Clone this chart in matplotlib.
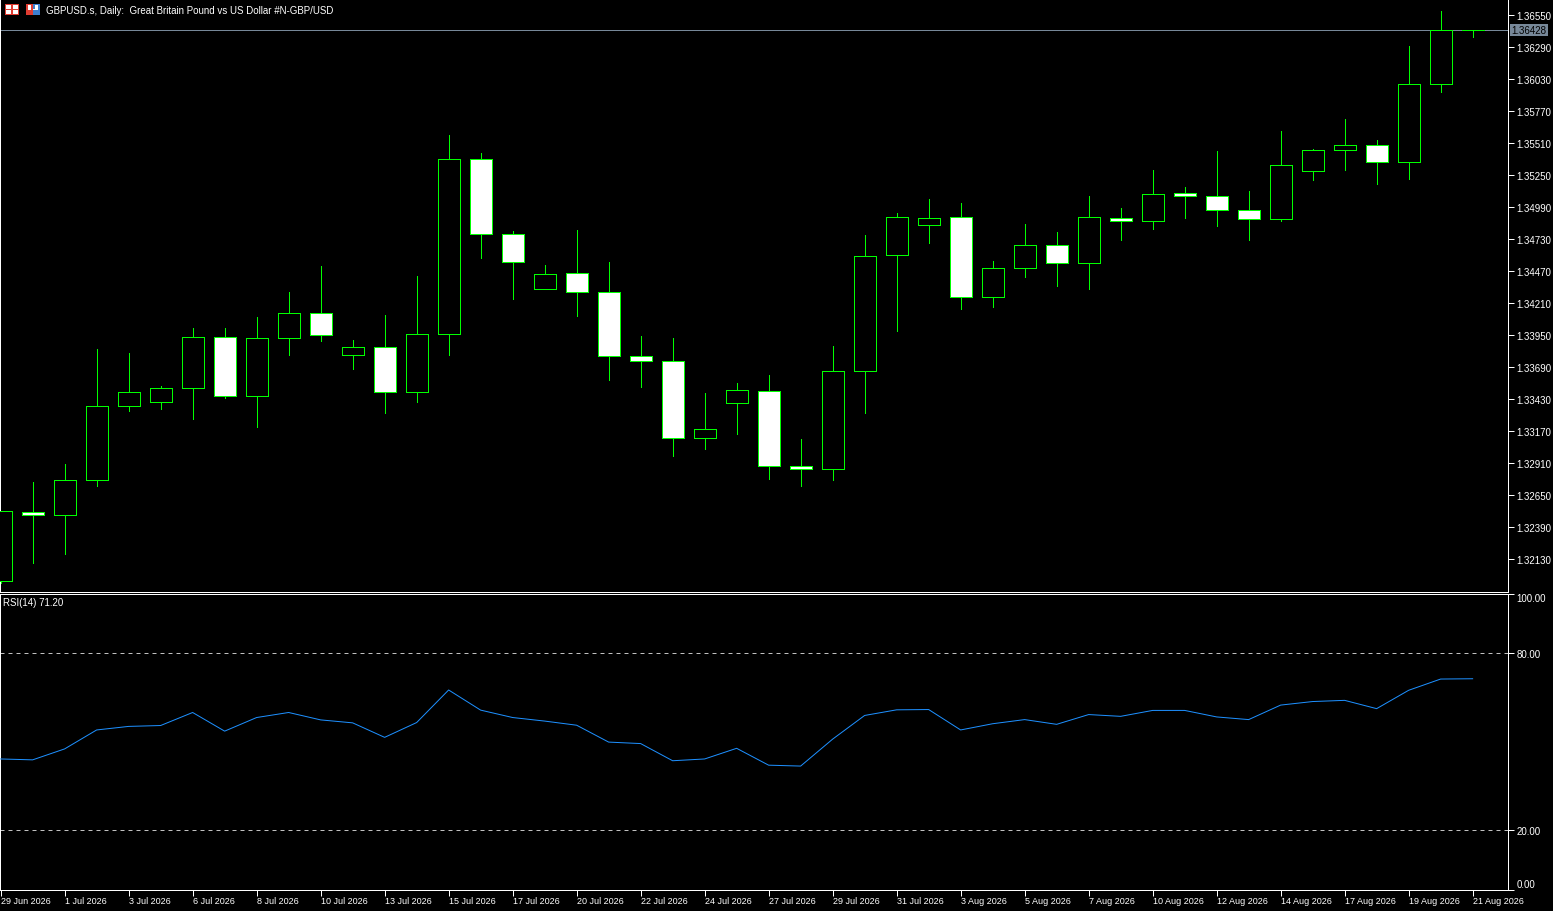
import matplotlib
matplotlib.use("Agg")
import matplotlib.pyplot as plt
from matplotlib.patches import Rectangle
from matplotlib.transforms import blended_transform_factory

# daily GBPUSD bars (broker shows Sunday bars too)
opens = [1.31949, 1.32508, 1.32485, 1.32769, 1.33371, 1.33403, 1.33517, 1.33931, 1.33452, 1.33923,
         1.34126, 1.33785, 1.33850, 1.33484, 1.33956, 1.35378, 1.34768, 1.34321, 1.34451, 1.34297,
         1.33777, 1.33736, 1.33111, 1.33395, 1.33493, 1.32883, 1.32859, 1.33655, 1.34598, 1.34841,
         1.34906, 1.34256, 1.34492, 1.34679, 1.34533, 1.34898, 1.34874, 1.35101, 1.35077, 1.34963,
         1.34890, 1.35280, 1.35451, 1.35491, 1.35353, 1.35987, 1.36428]
highs = [1.32518, 1.32753, 1.32899, 1.33836, 1.33804, 1.33536, 1.34007, 1.34007, 1.34096, 1.34299,
         1.34511, 1.33909, 1.34113, 1.34429, 1.35575, 1.35429, 1.34795, 1.34519, 1.34803, 1.34541,
         1.33939, 1.33926, 1.33479, 1.33560, 1.33625, 1.33105, 1.33861, 1.34763, 1.34941, 1.35055,
         1.35023, 1.34551, 1.34852, 1.34787, 1.35079, 1.34982, 1.35291, 1.35153, 1.35445, 1.35120,
         1.35608, 1.35461, 1.35705, 1.35534, 1.36298, 1.36583, 1.36432]
lows = [1.31935, 1.32100, 1.32173, 1.32726, 1.33335, 1.33351, 1.33270, 1.33441, 1.33205, 1.33790,
        1.33904, 1.33676, 1.33319, 1.33408, 1.33790, 1.34578, 1.34245, 1.34321, 1.34107, 1.33587,
        1.33530, 1.32969, 1.33026, 1.33148, 1.32782, 1.32726, 1.32774, 1.33319, 1.33985, 1.34700,
        1.34164, 1.34180, 1.34424, 1.34351, 1.34326, 1.34724, 1.34814, 1.34903, 1.34838, 1.34724,
        1.34874, 1.35212, 1.35293, 1.35179, 1.35220, 1.35927, 1.36374]
closes = [1.32518, 1.32488, 1.32769, 1.33371, 1.33484, 1.33517, 1.33931, 1.33452, 1.33923, 1.34126,
          1.33948, 1.33850, 1.33484, 1.33956, 1.35378, 1.34768, 1.34541, 1.34443, 1.34297, 1.33777,
          1.33736, 1.33111, 1.33184, 1.33501, 1.32883, 1.32859, 1.33655, 1.34589, 1.34906, 1.34898,
          1.34256, 1.34492, 1.34679, 1.34533, 1.34906, 1.34874, 1.35093, 1.35077, 1.34963, 1.34890,
          1.35329, 1.35451, 1.35491, 1.35353, 1.35987, 1.36425, 1.36428]

rsi = [44.1, 43.8, 47.5, 53.9, 55.1, 55.4, 59.8, 53.5, 58.1, 59.8,
       57.3, 56.3, 51.4, 56.4, 67.4, 60.6, 58.1, 56.9, 55.5, 49.8,
       49.3, 43.5, 44.1, 47.7, 42.0, 41.7, 50.8, 58.8, 60.7, 60.8,
       53.9, 56.0, 57.4, 55.8, 59.1, 58.5, 60.5, 60.5, 58.3, 57.4,
       62.3, 63.5, 63.9, 61.1, 67.3, 71.1, 71.2]

date_labels = ["29 Jun 2026", "1 Jul 2026", "3 Jul 2026", "6 Jul 2026", "8 Jul 2026", "10 Jul 2026",
               "13 Jul 2026", "15 Jul 2026", "17 Jul 2026", "20 Jul 2026", "22 Jul 2026", "24 Jul 2026",
               "27 Jul 2026", "29 Jul 2026", "31 Jul 2026", "3 Aug 2026", "5 Aug 2026", "7 Aug 2026",
               "10 Aug 2026", "12 Aug 2026", "14 Aug 2026", "17 Aug 2026", "19 Aug 2026", "21 Aug 2026"]

price_ticks = [1.32130, 1.32390, 1.32650, 1.32910, 1.33170, 1.33430, 1.33690, 1.33950, 1.34210,
               1.34470, 1.34730, 1.34990, 1.35250, 1.35510, 1.35770, 1.36030, 1.36290, 1.36550]
last_price = 1.36428

GREEN = "#00ff00"
FONT = "Liberation Sans"
PX = 0.72  # one pixel in points at 100 dpi
W, H = 1553, 912


def px_rect(l, t, r, b):
    return [l / W, 1 - b / H, (r - l) / W, (b - t) / H]


fig = plt.figure(figsize=(W / 100, H / 100), dpi=100, facecolor="black")
ax = fig.add_axes(px_rect(0, 0, 1508, 592.5), facecolor="black")
ax2 = fig.add_axes(px_rect(0, 594.5, 1508, 890.5), facecolor="black")

n = len(opens)
xs = list(range(n))

# candles: wicks first, bodies on top (bull = black body, bear = white body)
ax.vlines(xs, lows, highs, color=GREEN, lw=PX, zorder=2, antialiased=False)
bottoms = [min(o, c) for o, c in zip(opens, closes)]
heights = [abs(c - o) for o, c in zip(opens, closes)]
fills = ["black" if c >= o else "white" for o, c in zip(opens, closes)]
ax.bar(xs, heights, bottom=bottoms, width=0.69, color=fills, edgecolor=GREEN,
       linewidth=PX, zorder=3, antialiased=False)

ax.axhline(last_price, color="#778899", lw=PX, zorder=1)

ax.set_xlim(-0.02, 1508 / 32 - 0.02)
ax.set_ylim(1.36680 - 592.5 * 0.00008125, 1.36680)

ax.yaxis.tick_right()
ax.set_yticks(price_ticks)
ax.set_yticklabels([f"{p:.5f}" for p in price_ticks])
ax.tick_params(axis="y", colors="white", length=4, width=PX, pad=2, labelsize=7)
ax.tick_params(axis="x", bottom=False, labelbottom=False)
for lab in ax.get_yticklabels():
    lab.set_fontfamily(FONT)
ax.spines["top"].set_visible(False)
for s in ["left", "right", "bottom"]:
    ax.spines[s].set_color("white")
    ax.spines[s].set_linewidth(PX)

tr = blended_transform_factory(ax.transAxes, ax.transData)
ax.text(1.0025, last_price, f"{last_price:.5f}", transform=tr, va="center", ha="left",
        fontsize=7, family=FONT, color="black", zorder=5, clip_on=False,
        bbox=dict(boxstyle="square,pad=0.15", facecolor="#778899", edgecolor="none"))

# RSI pane
ax2.plot(xs, rsi, color="#1e90ff", lw=PX, zorder=3)
ax2.axhline(80, color="#c0c0c0", lw=PX, dashes=(4, 4))
ax2.axhline(20, color="#c0c0c0", lw=PX, dashes=(4, 4))
ax2.set_xlim(-0.02, 1508 / 32 - 0.02)
ax2.set_ylim(0, 100)
ax2.yaxis.tick_right()
ax2.set_yticks([0, 20, 80, 100])
ax2.set_yticklabels(["0.00", "20.00", "80.00", "100.00"])
ax2.tick_params(axis="y", colors="white", length=4, width=PX, pad=2, labelsize=7)
ylabs = ax2.get_yticklabels()
ylabs[0].set_va("bottom")
ylabs[3].set_va("top")
for lab in ylabs:
    lab.set_fontfamily(FONT)

ax2.set_xticks(xs[::2])
ax2.set_xticklabels(date_labels)
ax2.tick_params(axis="x", colors="white", length=4, width=PX, pad=1, labelsize=6.5)
for lab in ax2.get_xticklabels():
    lab.set_ha("left")
    lab.set_fontfamily(FONT)
for s in ax2.spines.values():
    s.set_color("white")
    s.set_linewidth(PX)

ax2.text(3 / 1508, 1 - 9 / 296, "RSI(14) 71.20", transform=ax2.transAxes, va="center",
         ha="left", fontsize=7, family=FONT, color="white")

# header with the two little toolbar icons
fig.text(46 / W, 1 - 10.5 / H, "GBPUSD.s, Daily:  Great Britain Pound vs US Dollar #N-GBP/USD",
         va="center", ha="left", fontsize=7, family=FONT, color="white")


def icon(x, y, w, h, color):
    fig.add_artist(Rectangle((x / W, 1 - (y + h) / H), w / W, h / H, transform=fig.transFigure,
                             facecolor=color, edgecolor="none"))


icon(5, 5, 14, 11, "#e03c31")
icon(6, 6, 5, 4, "white")
icon(13, 6, 5, 4, "white")
icon(6, 11, 5, 4, "white")
icon(13, 11, 5, 4, "white")
icon(26, 5, 7, 11, "#e03c31")
icon(33, 5, 7, 11, "#3c7fd0")
icon(28, 6, 3, 5, "white")
icon(35, 6, 3, 4, "white")
icon(33, 10, 5, 1, "white")

fig.savefig("out.png", dpi=100, facecolor="black")
